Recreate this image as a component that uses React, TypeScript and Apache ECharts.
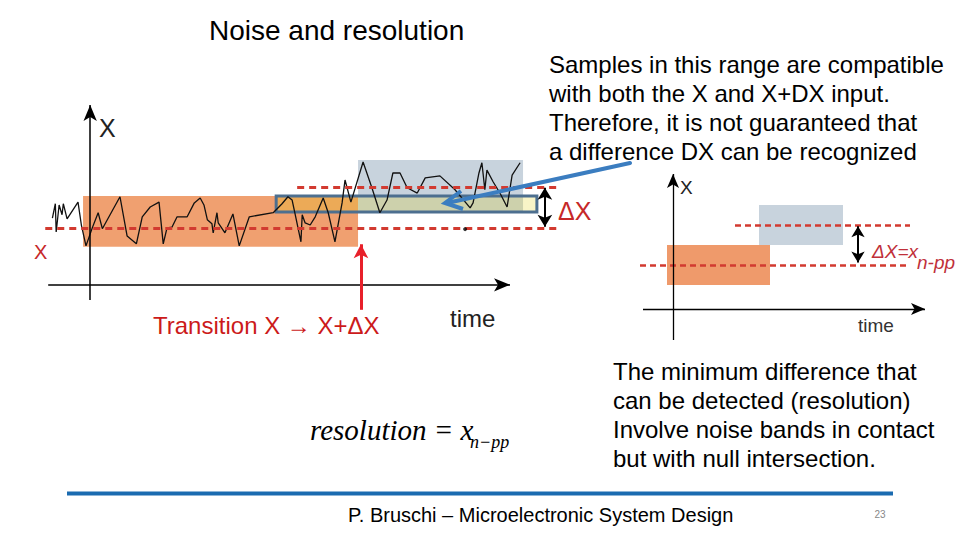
import React, { useEffect, useRef } from "react";
import * as echarts from "echarts";

// ---------- DATA ----------
// Noise trace (time units, signal units: X level = 0, X+ΔX level = 1)
const noiseTrace: [number, number][] = [
  [-9.0, 0.24], [-8.3, 0.59], [-8.1, -0.1], [-7.4, 0.56], [-6.7, 0.32], [-6.4, 0.59],
  [-5.5, 0.22], [-2.9, 0.63], [-2.1, 0.07], [-1.0, -0.44], [0.5, 0.0], [1.9, 0.37],
  [2.9, -0.02], [7.1, 0.76], [8.8, -0.2], [11.0, -0.39], [12.4, 0.27], [14.3, 0.51],
  [16.4, 0.63], [17.4, -0.39], [18.3, 0.0], [19.5, 0.02], [20.7, 0.27], [23.1, 0.27],
  [24.8, 0.61], [26.2, 0.73], [27.1, 0.56], [27.9, 0.2], [29.0, 0.1], [29.3, -0.12],
  [30.2, 0.37], [30.5, 0.12], [32.1, -0.12], [34.0, 0.34], [35.5, -0.44], [37.9, 0.27],
  [43.6, 0.37], [45.7, 0.59], [47.1, 0.76], [48.1, 0.68], [48.8, 0.34], [50.2, -0.34],
  [50.5, 0.32], [51.2, 0.12], [52.4, 0.07], [53.6, 0.27], [55.5, 0.73], [56.7, 0.37],
  [58.3, -0.34], [60.0, 0.61], [60.7, 1.17], [62.1, 0.63], [65.0, 1.61], [67.1, 0.98],
  [69.0, 0.37], [70.7, 0.68], [72.1, 1.34], [73.8, 1.34], [75.5, 0.98], [77.9, 0.85],
  [79.8, 1.22], [83.3, 1.27], [86.9, 0.93], [90.5, 0.49], [91.2, 0.61], [92.6, 1.34],
  [93.3, 1.59], [94.0, 0.93], [94.5, 1.41], [96.0, 1.12], [97.6, 0.85], [99.3, 0.51],
  [100.5, 1.29], [102.4, 1.59],
];
const levelX = 0;
const levelXdX = 1;
// noise bands of the left plot [t0, t1, v0, v1]
const leftBandX = [-1.7, 63.8, -0.46, 0.78];
const leftBandXdX = [63.8, 103.1, 0.39, 1.66];
const ambiguousRange = [44.3, 106.4, 0.39, 0.78];
const transitionTime = 64.5;
const strayDot: [number, number] = [89.3, -0.03];
// right plot bands [t0, t1, v0, v1]
const rightBandX = [-0.6, 9.7, -0.5, 0.5];
const rightBandXdX = [8.6, 17.0, 0.5, 1.5];

const titleText = "Noise and resolution";
const noteTop = [
  "Samples in this range are compatible",
  "with both the X and X+DX input.",
  "Therefore, it is not guaranteed that",
  "a difference DX can be recognized",
];
const noteBottom = [
  "The minimum difference that",
  "can be detected (resolution)",
  "Involve noise bands in contact",
  "but with null intersection.",
];
const footerText = "P. Bruschi \u2013 Microelectronic System Design";
const pageNumber = "23";

// ---------- STYLES ----------
const SANS = '"Liberation Sans", Arial, sans-serif';
const SERIF = '"Liberation Serif", "Times New Roman", serif';
const RED_DASH = "#D23A30";
const ORANGE = "#F0A070";
const GREY = "#C8D3DD";

function txt(text: string, x: number, y: number, size: number, o: any = {}) {
  return {
    type: "text",
    x,
    y,
    silent: true,
    z: 100,
    style: {
      text,
      fill: o.fill || "#000",
      fontSize: size,
      fontFamily: o.family || SANS,
      fontStyle: o.italic ? "italic" : "normal",
      textAlign: o.align || "left",
      align: o.align || "left",
      textVerticalAlign: "middle",
      verticalAlign: "middle",
    },
  };
}

function lineHolder(id: string, grid: number, z: number, extra: any) {
  return {
    type: "line",
    id,
    xAxisIndex: grid,
    yAxisIndex: grid,
    data: [[0, 0]],
    showSymbol: false,
    symbol: "none",
    lineStyle: { opacity: 0 },
    silent: true,
    z,
    ...extra,
  };
}

function segs(lines: [number, number][][], lineStyle: any, symbol: any, symbolSize: any = [10, 14]) {
  return {
    silent: true,
    symbol,
    symbolSize,
    label: { show: false },
    emphasis: { disabled: true },
    lineStyle,
    data: lines.map((l) => [{ coord: l[0] }, { coord: l[1] }]),
  };
}

function area(b: number[], itemStyle: any) {
  return [
    { coord: [b[0], b[3]], itemStyle },
    { coord: [b[1], b[2]] },
  ];
}

export default function App() {
  const ref = useRef<HTMLDivElement>(null);
  useEffect(() => {
    if (!ref.current) return;
    const chart = echarts.init(ref.current, undefined, { renderer: "svg" });
    const dash = { color: RED_DASH, width: 3, type: [7, 5] };

    const option: any = {
      animation: false,
      backgroundColor: "#fff",
      grid: [
        { left: 44, right: 387, top: 105, bottom: 222 },
        { left: 633, right: 27, top: 173, bottom: 195 },
      ],
      xAxis: [
        { type: "value", gridIndex: 0, min: -11, max: 115, show: false },
        { type: "value", gridIndex: 1, min: -4, max: 26, show: false },
      ],
      yAxis: [
        { type: "value", gridIndex: 0, min: -2.2, max: 3.0, show: false },
        { type: "value", gridIndex: 1, min: -2.0, max: 2.3, show: false },
      ],
      series: [
        lineHolder("leftBands", 0, 1, {
          markArea: {
            silent: true,
            label: { show: false },
            data: [area(leftBandX, { color: ORANGE }), area(leftBandXdX, { color: GREY })],
          },
        }),
        lineHolder("leftLevels", 0, 2, {
          markLine: segs(
            [
              [[-10.7, levelX], [111.7, levelX]],
              [[49.3, levelXdX], [111.7, levelXdX]],
            ],
            dash,
            "none"
          ),
        }),
        {
          type: "line",
          id: "noise",
          xAxisIndex: 0,
          yAxisIndex: 0,
          data: noiseTrace,
          showSymbol: false,
          symbol: "none",
          lineStyle: { color: "#111", width: 1.3 },
          silent: true,
          z: 3,
        },
        lineHolder("ambig", 0, 4, {
          markArea: {
            silent: true,
            label: { show: false },
            data: [
              area(ambiguousRange, {
                color: "rgba(225,205,0,0.22)",
                borderColor: "#4D6F8F",
                borderWidth: 3,
              }),
            ],
          },
        }),
        lineHolder("leftAxes", 0, 5, {
          markLine: segs(
            [
              [[-10, -1.39], [100, -1.39]],
              [[0, -1.76], [0, 3.0]],
            ],
            { color: "#000", width: 1.5, type: "solid" },
            ["none", "arrow"],
            [10, 16]
          ),
        }),
        lineHolder("leftDelta", 0, 5, {
          markLine: segs(
            [[[108.3, 0.98], [108.3, 0.03]]],
            { color: "#000", width: 2, type: "solid" },
            ["arrow", "arrow"],
            [11, 12]
          ),
        }),
        lineHolder("transition", 0, 5, {
          markLine: segs(
            [[[transitionTime, -2.0], [transitionTime, -0.4]]],
            { color: "#E8202A", width: 3, type: "solid" },
            ["none", "arrow"],
            [11, 14]
          ),
        }),
        {
          type: "scatter",
          xAxisIndex: 0,
          yAxisIndex: 0,
          data: [strayDot],
          symbolSize: 4,
          itemStyle: { color: "#000" },
          silent: true,
          z: 5,
        },
        lineHolder("rightBands", 1, 1, {
          markArea: {
            silent: true,
            label: { show: false },
            data: [area(rightBandX, { color: "#EF9A6B" }), area(rightBandXdX, { color: GREY })],
          },
        }),
        lineHolder("rightLevels", 1, 2, {
          markLine: segs(
            [
              [[-3.3, levelX], [23.7, levelX]],
              [[6.2, levelXdX], [23.7, levelXdX]],
            ],
            { color: RED_DASH, width: 2.5, type: [6, 4] },
            "none"
          ),
        }),
        lineHolder("rightAxes", 1, 5, {
          markLine: segs(
            [
              [[-3, -1.1], [25.2, -1.1]],
              [[0, -1.875], [0, 2.275]],
            ],
            { color: "#000", width: 1.3, type: "solid" },
            ["none", "arrow"],
            [9, 14]
          ),
        }),
        lineHolder("rightDelta", 1, 5, {
          markLine: segs(
            [[[18.5, 0.97], [18.5, 0.06]]],
            { color: "#000", width: 2, type: "solid" },
            ["arrow", "arrow"],
            [10, 11]
          ),
        }),
      ],
      graphic: [
        txt(titleText, 209, 30, 28),
        ...noteTop.map((s, i) => txt(s, 549, 64 + i * 29, 24)),
        ...noteBottom.map((s, i) => txt(s, 613, 371 + i * 29, 24)),
        txt("X", 99, 128, 25, { fill: "#222" }),
        txt("X", 34, 252, 20, { fill: "#C62828" }),
        txt("\u0394X", 558, 211, 25, { fill: "#C62828" }),
        txt("Transition X \u2192 X+\u0394X", 153, 325, 24, { fill: "#CC1A1A" }),
        txt("time", 450, 318, 24, { fill: "#222" }),
        txt("X", 680, 187, 19, { fill: "#222" }),
        txt("time", 858, 325, 19, { fill: "#333" }),
        txt("\u0394X=x", 872, 251, 19, { fill: "#C0303A", italic: true }),
        txt("n-pp", 917, 262, 19, { fill: "#C0303A", italic: true }),
        txt("resolution = x", 310, 430, 29, { family: SERIF, italic: true }),
        txt("n\u2212pp", 470, 442, 18, { family: SERIF, italic: true }),
        {
          type: "line",
          silent: true,
          z: 90,
          shape: { x1: 630, y1: 163, x2: 447, y2: 203 },
          style: { stroke: "#3B7DC0", lineWidth: 4, lineCap: "round" },
        },
        {
          type: "polyline",
          silent: true,
          z: 90,
          shape: { points: [[461, 191], [445, 203], [463, 209]] },
          style: { stroke: "#3B7DC0", lineWidth: 4, fill: "none", lineJoin: "miter" },
        },
        {
          type: "rect",
          silent: true,
          z: 90,
          shape: { x: 67, y: 491.5, width: 826, height: 4 },
          style: { fill: "#1A6BB0" },
        },
        txt(footerText, 348, 515, 20),
        txt(pageNumber, 880, 514, 10, { fill: "#888", align: "center" }),
      ],
    };
    chart.setOption(option);
    return () => chart.dispose();
  }, []);
  return (
    <div
      ref={ref}
      style={{ position: "fixed", left: 0, top: 0, width: 960, height: 540, background: "#fff" }}
    />
  );
}
